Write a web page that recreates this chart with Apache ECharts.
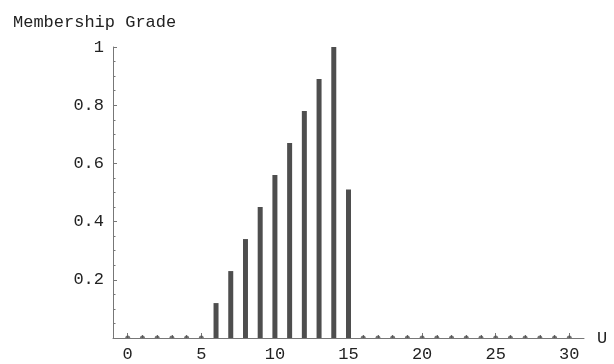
<!DOCTYPE html>
<html>
<head>
<meta charset="utf-8">
<script src="https://cdn.jsdelivr.net/npm/echarts@6/dist/echarts.min.js"></script>
<style>
  html, body { margin: 0; padding: 0; background: #fff; }
  #chart { width: 614px; height: 364px; }
</style>
</head>
<body>
<div id="chart"></div>
<script>
// Universe of discourse and membership grades of the fuzzy set
const universe = [];
for (let u = 0; u <= 30; u++) universe.push(u);
const grades = [
  0, 0, 0, 0, 0, 0,
  0.12, 0.23, 0.34, 0.45, 0.56, 0.67, 0.78, 0.89, 1.0, 0.51,
  0, 0, 0, 0, 0, 0, 0, 0, 0, 0, 0, 0, 0, 0, 0
];
const xMajorTicks = [0, 5, 10, 15, 20, 25, 30];
const yTicks = [0.2, 0.4, 0.6, 0.8, 1];

const positive = [];
const zeros = [];
universe.forEach((u, i) => {
  if (grades[i] > 0) positive.push([u, grades[i]]);
  else zeros.push([u, grades[i]]);
});

const FONT = 'Liberation Mono';
const AXIS = '#777777';
const INK = '#4e4e4e';

const chart = echarts.init(document.getElementById('chart'), null, { renderer: 'canvas' });
chart.setOption({
  animation: false,
  backgroundColor: '#ffffff',
  title: {
    text: 'Membership Grade',
    left: 8, top: 9,
    textStyle: { fontFamily: FONT, fontSize: 17, fontWeight: 'normal', color: '#222' }
  },
  grid: { left: 113, right: 30, top: 47, bottom: 26, containLabel: false },
  xAxis: [{
    type: 'value', min: -1, max: 31,
    name: 'U', nameLocation: 'end', nameGap: 13,
    nameTextStyle: { fontFamily: FONT, fontSize: 17, color: '#222', verticalAlign: 'middle' },
    axisLine: { onZero: false, lineStyle: { color: AXIS, width: 1 } },
    axisTick: { show: true, inside: true, length: 5, customValues: xMajorTicks, lineStyle: { color: AXIS } },
    axisLabel: { customValues: xMajorTicks, fontFamily: FONT, fontSize: 17, color: '#222', margin: 8 },
    splitLine: { show: false }
  }, {
    type: 'value', min: -1, max: 31, position: 'bottom',
    axisLine: { show: false },
    axisTick: { show: true, inside: true, length: 3, customValues: universe, lineStyle: { color: AXIS } },
    axisLabel: { show: false },
    splitLine: { show: false }
  }],
  yAxis: {
    type: 'value', min: 0, max: 1, interval: 0.2,
    axisLine: { show: true, onZero: false, lineStyle: { color: AXIS, width: 1 } },
    axisTick: { show: true, inside: true, length: 4, lineStyle: { color: AXIS } },
    minorTick: { show: true, splitNumber: 4, length: 2.5, lineStyle: { color: AXIS } },
    axisLabel: {
      fontFamily: FONT, fontSize: 17, color: '#222', margin: 9,
      formatter: v => (v === 0 ? '' : (v === 1 ? '1' : v.toFixed(1)))
    },
    splitLine: { show: false }
  },
  series: [{
    type: 'bar',
    data: positive,
    barWidth: 5,
    itemStyle: { color: INK },
    z: 3
  }, {
    type: 'scatter',
    data: zeros,
    symbol: 'path://M0,10 A10,10 0 0 1 20,10 Z',
    symbolSize: [5, 2.5],
    symbolOffset: [0, -1.25],
    itemStyle: { color: INK },
    clip: false,
    z: 4
  }]
});
</script>
</body>
</html>
